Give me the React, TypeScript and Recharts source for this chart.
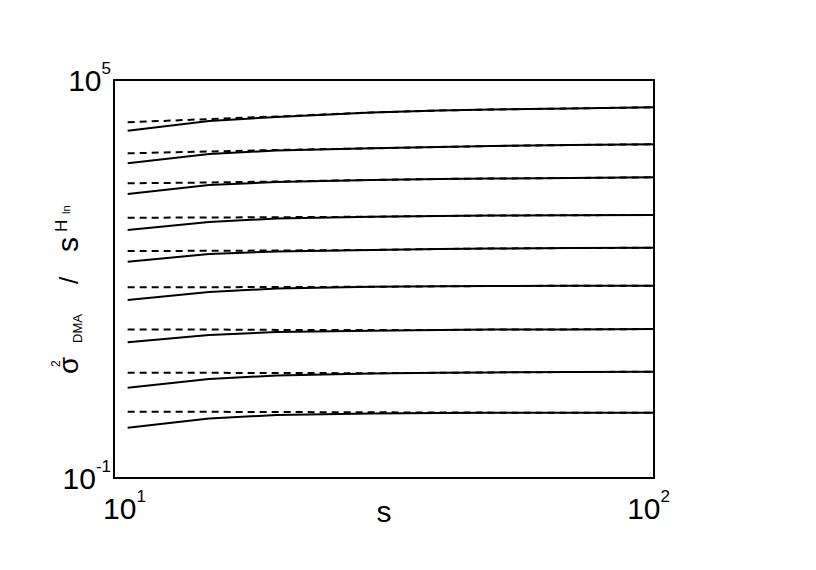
import React from 'react';
import { LineChart, Line, XAxis, YAxis, ReferenceArea, Label } from 'recharts';

// scale s (x values)
const S = [10.6, 15, 20, 30, 40, 50, 70, 100];

// sigma^2_DMA / s^H_ln  (solid: measured, dashed: reference)
const SOLID_1 = [17200, 24100, 27700, 32400, 34700, 35900, 37200, 38800];
const DASH_1 = [23000, 25800, 28200, 32400, 34700, 35900, 37200, 38800];
const SOLID_2 = [5550, 7660, 8650, 9340, 9770, 10120, 10470, 10730];
const DASH_2 = [7850, 8360, 8810, 9340, 9770, 10120, 10470, 10730];
const SOLID_3 = [1910, 2610, 2900, 3110, 3220, 3270, 3330, 3410];
const DASH_3 = [2770, 2850, 2950, 3110, 3220, 3270, 3330, 3410];
const SOLID_4 = [548, 723, 817, 869, 891, 906, 916, 922];
const DASH_4 = [839, 845, 854, 869, 891, 906, 916, 922];
const SOLID_5 = [182, 238, 260, 274, 283, 288, 293, 296];
const DASH_5 = [264, 266, 269, 274, 283, 288, 293, 296];
const SOLID_6 = [48.2, 63.7, 71.9, 76.3, 77.6, 78.4, 79.0, 79.2];
const DASH_6 = [74.9, 75.2, 75.7, 76.3, 77.6, 78.4, 79.0, 79.2];
const SOLID_7 = [11.1, 14.3, 15.9, 16.6, 17.0, 17.3, 17.4, 17.6];
const DASH_7 = [17.4, 17.3, 17.1, 17.0, 17.0, 17.3, 17.4, 17.6];
const SOLID_8 = [2.3, 3.11, 3.51, 3.76, 3.85, 3.91, 3.96, 4.0];
const DASH_8 = [3.87, 3.85, 3.83, 3.8, 3.85, 3.91, 3.96, 4.0];
const SOLID_9 = [0.573, 0.788, 0.89, 0.938, 0.954, 0.961, 0.963, 0.963];
const DASH_9 = [0.998, 0.995, 0.988, 0.978, 0.971, 0.967, 0.963, 0.963];

const X_TICKS = [10, 100];
const X_TICK_EXP = ['1', '2'];
const Y_TICKS = [0.1, 100000];
const Y_TICK_EXP = ['-1', '5'];
const X_DOMAIN = [10, 100];
const Y_DOMAIN = [0.1, 100000];

const SOLIDS = [SOLID_1, SOLID_2, SOLID_3, SOLID_4, SOLID_5, SOLID_6, SOLID_7, SOLID_8, SOLID_9];
const DASHES = [DASH_1, DASH_2, DASH_3, DASH_4, DASH_5, DASH_6, DASH_7, DASH_8, DASH_9];

const data = S.map((s, i) => {
  const row: Record<string, number> = { s };
  SOLIDS.forEach((arr, k) => { row['solid' + k] = arr[i]; });
  DASHES.forEach((arr, k) => { row['dash' + k] = arr[i]; });
  return row;
});

const FONT = 'Liberation Sans, Arial, Helvetica, sans-serif';

const idxFor = (v: number, ticks: number[]) => {
  let best = 0;
  let bd = Infinity;
  ticks.forEach((t, i) => {
    const d = Math.abs(Math.log10(t) - Math.log10(v));
    if (d < bd) { bd = d; best = i; }
  });
  return best;
};

const XTick = (props: any) => {
  const { x, y, payload } = props;
  const i = idxFor(payload.value, X_TICKS);
  const exp = X_TICK_EXP[i];
  const first = i === 0;
  return (
    <text
      x={first ? x - 11 : x + 16}
      y={y + 41}
      textAnchor={first ? 'start' : 'end'}
      fontFamily={FONT}
      fill="#000"
    >
      <tspan fontSize={30}>10</tspan>
      <tspan fontSize={17} dy={-17}>{exp}</tspan>
    </text>
  );
};

const YTick = (props: any) => {
  const { x, y, payload } = props;
  const exp = Y_TICK_EXP[idxFor(payload.value, Y_TICKS)];
  return (
    <text x={x - 3} y={y + 11} textAnchor="end" fontFamily={FONT} fill="#000">
      <tspan fontSize={30}>10</tspan>
      <tspan fontSize={17} dy={-17}>{exp}</tspan>
    </text>
  );
};

const XTitle = (props: any) => {
  const vb = props.viewBox || { x: 114, y: 478, width: 540 };
  return (
    <text x={vb.x + vb.width / 2} y={522} textAnchor="middle" fontFamily={FONT} fontSize={30} fill="#000">s</text>
  );
};

// rotated frame: local x = -screenY, local y = screenX - 78
const YTitle = () => (
  <text transform="translate(78,0) rotate(-90)" fontFamily={FONT} fill="#000">
    <tspan x={-374} y={0} fontSize={28}>σ</tspan>
    <tspan x={-367} y={-18} fontSize={12}>2</tspan>
    <tspan x={-343} y={4} fontSize={13}>DMA</tspan>
    <tspan x={-284} y={0} fontSize={26}>/</tspan>
    <tspan x={-252} y={0} fontSize={30}>s</tspan>
    <tspan x={-232} y={-11} fontSize={17}>H</tspan>
    <tspan x={-214} y={-8} fontSize={11}>ln</tspan>
  </text>
);

export default function App() {
  return (
    <div style={{ position: 'absolute', left: 0, top: 0, width: 816, height: 570, background: '#fff' }}>
      <LineChart
        width={816}
        height={570}
        data={data}
        margin={{ top: 80, right: 162, bottom: 22, left: 24 }}
      >
        <XAxis
          dataKey="s"
          type="number"
          scale="log"
          domain={X_DOMAIN}
          ticks={X_TICKS}
          allowDataOverflow
          height={70}
          tickSize={0}
          tickMargin={0}
          axisLine={false}
          tickLine={false}
          tick={XTick}
          interval={0}
        >
          <Label content={XTitle} />
        </XAxis>
        <YAxis
          type="number"
          scale="log"
          domain={Y_DOMAIN}
          ticks={Y_TICKS}
          allowDataOverflow
          width={90}
          tickSize={0}
          tickMargin={0}
          axisLine={false}
          tickLine={false}
          tick={YTick}
          interval={0}
        >
          <Label content={YTitle} />
        </YAxis>
        {SOLIDS.map((_, k) => (
          <Line
            key={'s' + k}
            dataKey={'solid' + k}
            type="linear"
            stroke="#000"
            strokeWidth={2}
            dot={false}
            activeDot={false}
            isAnimationActive={false}
          />
        ))}
        {DASHES.map((_, k) => (
          <Line
            key={'d' + k}
            dataKey={'dash' + k}
            type="linear"
            stroke="#000"
            strokeWidth={2}
            strokeDasharray="7 5"
            dot={false}
            activeDot={false}
            isAnimationActive={false}
          />
        ))}
        <ReferenceArea
          x1={X_DOMAIN[0]}
          x2={X_DOMAIN[1]}
          y1={Y_DOMAIN[0]}
          y2={Y_DOMAIN[1]}
          fill="none"
          fillOpacity={0}
          stroke="#000"
          strokeWidth={2}
          ifOverflow="visible"
        />
      </LineChart>
    </div>
  );
}
